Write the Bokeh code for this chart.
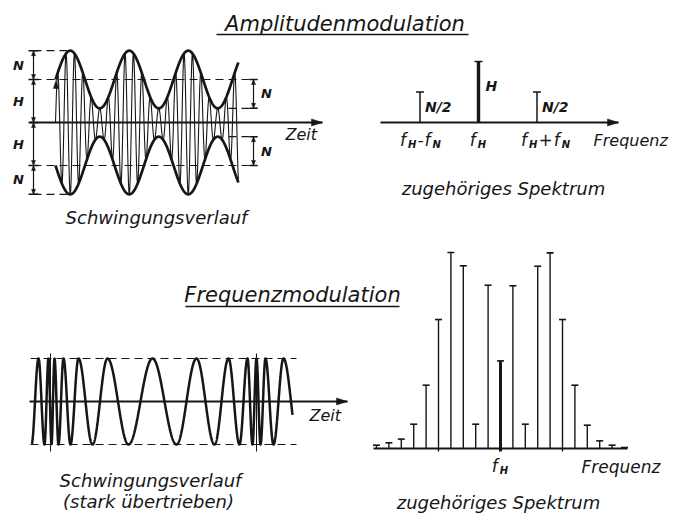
import numpy as np
from bokeh.plotting import figure
from bokeh.models import Range1d
from bokeh.core.properties import value
from bokeh.embed import file_html
from bokeh.resources import INLINE

FONT = "DejaVu Sans"
INK = "#161616"

# ---------------- data ----------------
# Amplitudenmodulation (relative amplitudes)
am_H = 1.0                     # carrier amplitude H
am_N = 0.67                    # modulation amplitude N
am_mod_periods = 3.1           # drawn modulation periods
am_carrier_per_mod = 7         # carrier cycles per modulation period
am_dim_labels = ["N", "H", "H", "N"]

am_spec_pos = [-1, 0, 1]                  # multiples of f_N around f_H
am_spec_amp = [0.5, 1.0, 0.5]             # N/2, H, N/2
am_spec_val_labels = ["N/2", "H", "N/2"]
am_spec_tick_labels = [
    [("f", 0), ("H", 1), ("-", 0), ("f", 0), ("N", 1)],
    [("f", 0), ("H", 1)],
    [("f", 0), ("H", 1), ("+", 0), ("f", 0), ("N", 1)],
]

# Frequenzmodulation: extrema of the drawn oscillation (time units of the sketch)
fm_extrema_t = [1, 8, 14, 18, 21, 24, 28, 33, 40, 48, 62, 77, 98, 122, 146,
                166, 184, 198, 209, 217, 222, 226, 230, 235, 243, 253, 268]
fm_first_sign = -1
fm_t_end = 262
fm_dense_t = [20, 226]         # points of highest instantaneous frequency

fm_spec_k = list(range(-10, 11))          # side line order
fm_spec_amp = [0.017, 0.029, 0.048, 0.124, 0.323, 0.658, 1.0, 0.932, 0.124,
               0.833, 0.447, 0.830, 0.124, 0.930, 0.998, 0.658, 0.323, 0.119,
               0.039, 0.017, 0.005]

# ---------------- layout (canvas px) ----------------
AM_X0, AM_Y0, AM_SX, AM_SY = 55.0, 122.0, 59.0, 43.0
AMS_X0, AMS_Y0, AMS_DX, AMS_SY = 478.0, 122.0, 58.5, 61.0
FM_X0, FM_Y0, FM_SY = 30.0, 401.0, 43.0
FMS_X0, FMS_Y0, FMS_DX, FMS_SY = 500.0, 448.0, 12.4, 196.0

p = figure(width=686, height=519, x_range=Range1d(0, 686), y_range=Range1d(519, 0),
           output_backend="svg", toolbar_location=None,
           x_axis_location=None, y_axis_location=None, min_border=0,
           outline_line_color=None, background_fill_color="white",
           border_fill_color="white")
p.xgrid.grid_line_color = None
p.ygrid.grid_line_color = None

heads_x, heads_y = [], []


def head(xt, yt, dx, dy, L=9.0, W=3.2):
    n = np.hypot(dx, dy)
    dx, dy = dx / n, dy / n
    bx, by = xt - L * dx, yt - L * dy
    nx, ny = -dy, dx
    heads_x.append([xt, bx + W * nx, bx - W * nx])
    heads_y.append([yt, by + W * ny, by - W * ny])


def txt(x, y, s, size, align="center", bold=False):
    p.text(x=[x], y=[y], text=[s], text_font=value(FONT),
           text_font_style="bold italic" if bold else "italic",
           text_font_size=f"{size}px", text_align=align,
           text_baseline="middle", text_color=INK)


ADV = {"f": 0.352, "H": 0.752, "N": 0.748, "-": 0.361, "+": 0.838, " ": 0.318}


def sub_label(xc, yc, parts, big=17, small=10):
    widths = []
    for s, sub in parts:
        w = sum(ADV.get(c, 0.6) for c in s) * (small if sub else big)
        widths.append(w + (3 if sub else 1))
    x = xc - sum(widths) / 2
    for (s, sub), w in zip(parts, widths):
        if sub:
            txt(x + 1, yc + 5, s, small, align="left", bold=True)
        else:
            txt(x, yc, s, big, align="left")
        x += w


# ================= Amplitudenmodulation: time signal =================
x_end = AM_X0 + am_mod_periods * AM_SX
xs = np.linspace(AM_X0, x_end, 6000)
env = am_H + am_N * np.sin(2 * np.pi * (xs - AM_X0) / AM_SX)
carrier = np.sin(2 * np.pi * (xs - AM_X0) * am_carrier_per_mod / AM_SX)
p.line(xs, AM_Y0 - env * AM_SY * carrier, line_color=INK, line_width=1.1)
p.line(xs, AM_Y0 - env * AM_SY, line_color=INK, line_width=2.7)
p.line(xs, AM_Y0 + env * AM_SY, line_color=INK, line_width=2.7)
head(AM_X0 + 0.5, AM_Y0 - am_H * AM_SY + 1, 0, -1, L=8, W=2.6)

# time axis
p.line([29, 322], [AM_Y0, AM_Y0], line_color=INK, line_width=1.8)
head(322, AM_Y0, 1, 0, L=11, W=3.5)
txt(285, 134, "Zeit", 16, align="left")

# dimension line left
DIM_X = 33.0
levels = [am_H + am_N, am_H, 0.0, -am_H, -(am_H + am_N)]
ly = [AM_Y0 - v * AM_SY for v in levels]
p.line([DIM_X, DIM_X], [ly[0], ly[-1]], line_color=INK, line_width=1.2)
for i, y in enumerate(ly):
    p.line([DIM_X - 5, DIM_X + 5], [y, y], line_color=INK, line_width=1.4)
    if i > 0:
        head(DIM_X, y, 0, 1, L=5, W=2.0)
    if i < len(ly) - 1:
        head(DIM_X, y, 0, -1, L=5, W=2.0)
for i, lab in enumerate(am_dim_labels):
    txt(DIM_X - 15, (ly[i] + ly[i + 1]) / 2, lab, 13, bold=True)

# dashed guide lines
peak_x = AM_X0 + 0.25 * AM_SX
dash = "8 5"
p.line([DIM_X, peak_x], [ly[0], ly[0]], line_color=INK, line_width=1.2, line_dash=dash)
p.line([DIM_X, peak_x + 2], [ly[-1], ly[-1]], line_color=INK, line_width=1.2, line_dash=dash)
BR_X = 253.0
for sgn in (1, -1):
    yH = AM_Y0 - sgn * am_H * AM_SY
    yM = AM_Y0 - sgn * (am_H - am_N) * AM_SY
    p.line([DIM_X, BR_X + 4], [yH, yH], line_color=INK, line_width=1.2, line_dash=dash)
    p.line([228, BR_X + 4], [yM, yM], line_color=INK, line_width=1.2, line_dash=dash)
    p.line([BR_X, BR_X], [yH, yM], line_color=INK, line_width=1.2)
    for y in (yH, yM):
        p.line([BR_X - 4, BR_X + 4], [y, y], line_color=INK, line_width=1.4)
    d = 1 if yM > yH else -1
    head(BR_X, yH, 0, -d, L=5, W=2.0)
    head(BR_X, yM, 0, d, L=5, W=2.0)
    txt(BR_X + 13, (yH + yM) / 2, "N", 13, bold=True)

txt(156, 217, "Schwingungsverlauf", 18)

# title
txt(344.5, 23, "Amplitudenmodulation", 21)
p.line([216, 468], [34, 34], line_color=INK, line_width=1.6)

# ================= Amplitudenmodulation: spectrum =================
p.line([380, 618], [AMS_Y0, AMS_Y0], line_color=INK, line_width=1.8)
head(618, AMS_Y0, 1, 0, L=11, W=3.5)
for k, a, lab in zip(am_spec_pos, am_spec_amp, am_spec_val_labels):
    x = AMS_X0 + k * AMS_DX
    top = AMS_Y0 - a * AMS_SY
    lw = 3.4 if k == 0 else 1.5
    p.line([x, x], [AMS_Y0, top], line_color=INK, line_width=lw)
    p.line([x - 4, x + 4], [top, top], line_color=INK, line_width=1.6)
    if k == 0:
        txt(x + 7, AMS_Y0 - a * AMS_SY * 0.6, lab, 14, align="left", bold=True)
    else:
        txt(x + 5, AMS_Y0 - a * AMS_SY * 0.5, lab, 14, align="left", bold=True)
label_shift = [1, 0, 9]
for k, parts, sh in zip(am_spec_pos, am_spec_tick_labels, label_shift):
    sub_label(AMS_X0 + k * AMS_DX + sh, 139, parts)
txt(593, 140, "Frequenz", 16, align="left")
txt(503, 188, "zugehöriges Spektrum", 18)

# ================= Frequenzmodulation: time signal =================
ext = np.array(fm_extrema_t, dtype=float)
signs = fm_first_sign * (-1.0) ** np.arange(len(ext))
ts = np.linspace(ext[0] + 0.3, fm_t_end, 5000)
idx = np.clip(np.searchsorted(ext, ts, side="right") - 1, 0, len(ext) - 2)
frac = (ts - ext[idx]) / (ext[idx + 1] - ext[idx])
vals = signs[idx] * np.cos(np.pi * frac)
p.line(FM_X0 + ts, FM_Y0 - vals * FM_SY, line_color=INK, line_width=2.5)

p.line([29, 347], [FM_Y0, FM_Y0], line_color=INK, line_width=1.8)
head(347, FM_Y0, 1, 0, L=11, W=3.5)
txt(309, 415, "Zeit", 16, align="left")
for v in (1, -1):
    yv = FM_Y0 - v * FM_SY
    p.line([FM_X0, FM_X0 + 266], [yv, yv], line_color=INK, line_width=1.2, line_dash=dash)
for t in fm_dense_t:
    p.line([FM_X0 + t, FM_X0 + t], [FM_Y0 - FM_SY - 5, FM_Y0 + FM_SY + 7],
           line_color=INK, line_width=1.0)
txt(150, 480, "Schwingungsverlauf", 18)
txt(148, 501, "(stark übertrieben)", 18)

txt(292, 294, "Frequenzmodulation", 21)
p.line([185, 399], [306, 306], line_color=INK, line_width=1.6)

# ================= Frequenzmodulation: spectrum =================
p.line([373, 627], [FMS_Y0, FMS_Y0], line_color=INK, line_width=1.8)
for k, a in zip(fm_spec_k, fm_spec_amp):
    x = FMS_X0 + k * FMS_DX
    top = FMS_Y0 - a * FMS_SY
    lw = 3.0 if k == 0 else 1.4
    bottom = FMS_Y0 + 3 if k in (-5, 0, 5) else FMS_Y0
    p.line([x, x], [bottom, top], line_color=INK, line_width=lw)
    p.line([x - 3.5, x + 3.5], [top, top], line_color=INK, line_width=1.6)
sub_label(FMS_X0, 465, [("f", 0), ("H", 1)])
txt(581, 466, "Frequenz", 17, align="left")
txt(498, 502, "zugehöriges Spektrum", 18)

p.patches(heads_x, heads_y, fill_color=INK, line_color=INK, line_width=0.5)

open("out.html", "w").write(file_html(p, INLINE))
